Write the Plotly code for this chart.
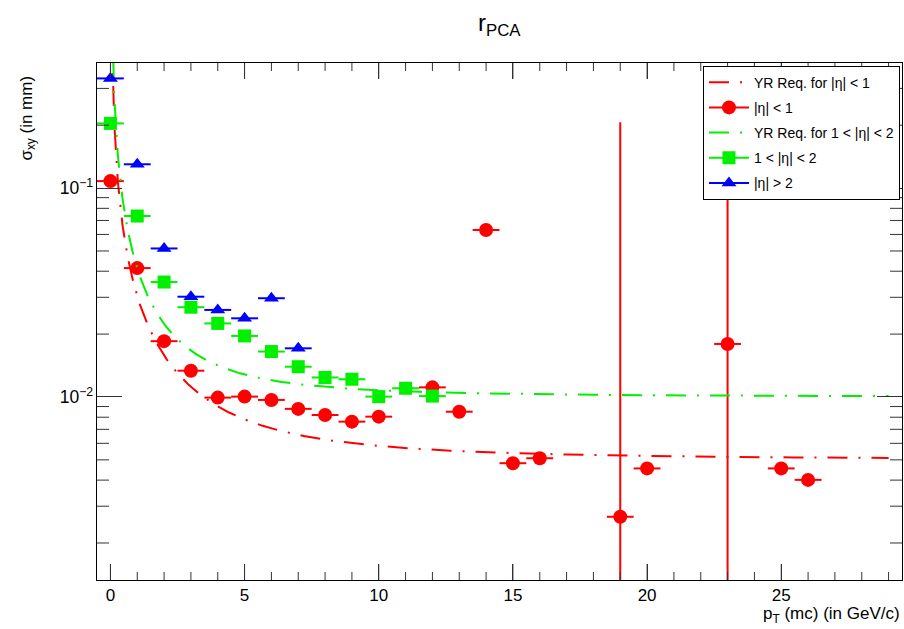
import numpy as np
import plotly.graph_objects as go

# --- measured resolution, sigma_xy (mm) vs generated pT (GeV/c) ---
pt_central = [0, 1, 2, 3, 4, 5, 6, 7, 8, 9, 10, 12, 13, 14, 15, 16, 19, 20, 23, 25, 26]
sigma_central = [0.108, 0.0414, 0.0185, 0.01336, 0.00993, 0.01004, 0.00968, 0.00877,
                 0.0082, 0.00762, 0.00805, 0.01112, 0.0085, 0.063, 0.00482, 0.00509,
                 0.00267, 0.00455, 0.01794, 0.00455, 0.00401]
err_central = [0, 0, 0, 0, 0, 0, 0, 0, 0, 0, 0, 0, 0, 0, 0, 0,
               0.204, 0, 0.25, 0, 0]

pt_mid = [0, 1, 2, 3, 4, 5, 6, 7, 8, 9, 10, 11, 12]
sigma_mid = [0.204, 0.0735, 0.0355, 0.0269, 0.0225, 0.0196, 0.0165, 0.01396,
             0.0124, 0.01216, 0.01004, 0.01101, 0.0101]

pt_fwd = [0, 1, 2, 3, 4, 5, 6, 7]
sigma_fwd = [0.335, 0.130, 0.0514, 0.0302, 0.0261, 0.0238, 0.0297, 0.0171]

bin_half_width = 0.5

# Yellow Report requirement: sigma = a/pT (+) b  (mm), drawn up to pT = 29
yr_central = (0.03, 0.005)
yr_mid = (0.04, 0.010)
yr_pt_max = 29.0

X_RANGE = [-0.5, 29.5]
Y_RANGE = [np.log10(0.00133), np.log10(0.397)]

W, H = 904, 629
MARGIN = dict(l=97, r=2, t=63, b=49)
PLOT_W = W - MARGIN["l"] - MARGIN["r"]
PLOT_H = H - MARGIN["t"] - MARGIN["b"]

RED, GREEN, BLUE = "#ff0000", "#00f000", "#0000ff"
FONT = "Liberation Sans, Arial, Helvetica, sans-serif"
TICK = "#333333"


def yr_curve(a, b, pt):
    return np.sqrt((a / pt) ** 2 + b ** 2)


pt_grid = np.linspace(0.06, yr_pt_max, 1500)
dashdot = "20px,11px,2px,11px"

fig = go.Figure()


def add_curve(params, color, name, group):
    fig.add_trace(go.Scatter(
        x=pt_grid, y=yr_curve(*params, pt_grid), mode="lines",
        line=dict(color=color, width=2, dash=dashdot),
        name=name, legendgroup=group, hoverinfo="skip"))


def add_points(x, y, err, color, symbol, size, name, group):
    fig.add_trace(go.Scatter(
        x=x, y=y, mode="markers",
        marker=dict(color=color, symbol=symbol, size=size, line=dict(width=0)),
        error_x=dict(type="constant", value=bin_half_width, color=color,
                     thickness=2, width=0),
        error_y=dict(type="data", array=err, color=color, thickness=2,
                     width=0, visible=err is not None),
        showlegend=False, legendgroup=group))
    # legend entry: marker with a horizontal bar through it
    fig.add_trace(go.Scatter(
        x=[None], y=[None], mode="lines+markers",
        marker=dict(color=color, symbol=symbol, size=size, line=dict(width=0)),
        line=dict(color=color, width=2),
        name=name, legendgroup=group))


add_curve(yr_central, RED, "YR Req. for |η| < 1", "g1")
add_points(pt_central, sigma_central, err_central, RED, "circle", 14,
           "|η| < 1", "g2")
add_curve(yr_mid, GREEN, "YR Req. for 1 < |η| < 2", "g3")
add_points(pt_mid, sigma_mid, None, GREEN, "square", 13,
           "1 < |η| < 2", "g4")
add_points(pt_fwd, sigma_fwd, None, BLUE, "triangle-up", 13,
           "|η| > 2", "g5")

# --- frame tick marks (inside, on all four sides), ROOT style ---
X_MAJOR_LEN, X_MINOR_LEN = 16, 8
Y_MINOR_LEN = 12
tick_line = dict(color=TICK, width=1)

x_tick_pos = list(range(int(np.ceil(X_RANGE[0])), int(np.floor(X_RANGE[1])) + 1))
for xv in x_tick_pos:
    frac = (X_MAJOR_LEN if xv % 5 == 0 else X_MINOR_LEN) / PLOT_H
    for base, end in ((0, frac), (1, 1 - frac)):
        fig.add_shape(type="line", xref="x", yref="y domain",
                      x0=xv, x1=xv, y0=base, y1=end, line=tick_line, layer="above")

y_minor = [k * 10.0 ** e for e in (-3, -2, -1) for k in range(2, 10)
           if Y_RANGE[0] < np.log10(k * 10.0 ** e) < Y_RANGE[1]]
for yv in y_minor:
    frac = Y_MINOR_LEN / PLOT_W
    for base, end in ((0, frac), (1, 1 - frac)):
        fig.add_shape(type="line", xref="x domain", yref="y",
                      x0=base, x1=end, y0=yv, y1=yv, line=tick_line, layer="above")

axis_common = dict(
    showline=True, linecolor="black", linewidth=1, mirror="ticks",
    ticks="inside", tickcolor=TICK, tickwidth=1,
    showgrid=False, zeroline=False,
)

fig.update_layout(
    xaxis=dict(range=X_RANGE, tick0=0, dtick=5, ticklen=X_MAJOR_LEN,
               tickfont=dict(family=FONT, size=17, color="black"),
               **axis_common),
    yaxis=dict(type="log", range=Y_RANGE, dtick=1, exponentformat="power",
               ticklen=25, tickfont=dict(family=FONT, size=14, color="black"),
               **axis_common),
    width=W, height=H,
    margin=MARGIN,
    paper_bgcolor="white", plot_bgcolor="white",
    font=dict(family=FONT, color="black"),
    showlegend=True,
    legend=dict(
        x=0.9975, y=0.995, xanchor="right", yanchor="top",
        bgcolor="white", bordercolor="black", borderwidth=1,
        font=dict(family=FONT, size=14, color="black"),
        tracegroupgap=4, traceorder="grouped", itemwidth=40,
    ),
    annotations=[
        dict(text="r<sub>PCA</sub>", xref="paper", yref="paper",
             x=0.5006, y=1.075, xanchor="center", yanchor="middle",
             showarrow=False, font=dict(family=FONT, size=24)),
        dict(text="σ<sub>xy</sub> (in mm)", xref="paper", yref="paper",
             x=-0.086, y=0.98, xanchor="center", yanchor="top",
             textangle=-90, showarrow=False, font=dict(family=FONT, size=17)),
        dict(text="p<sub>T</sub> (mc) (in GeV/c)", xref="paper", yref="paper",
             x=1.0, y=-0.067, xanchor="right", yanchor="middle",
             showarrow=False, font=dict(family=FONT, size=17)),
    ],
)

fig.write_html("out.html")
